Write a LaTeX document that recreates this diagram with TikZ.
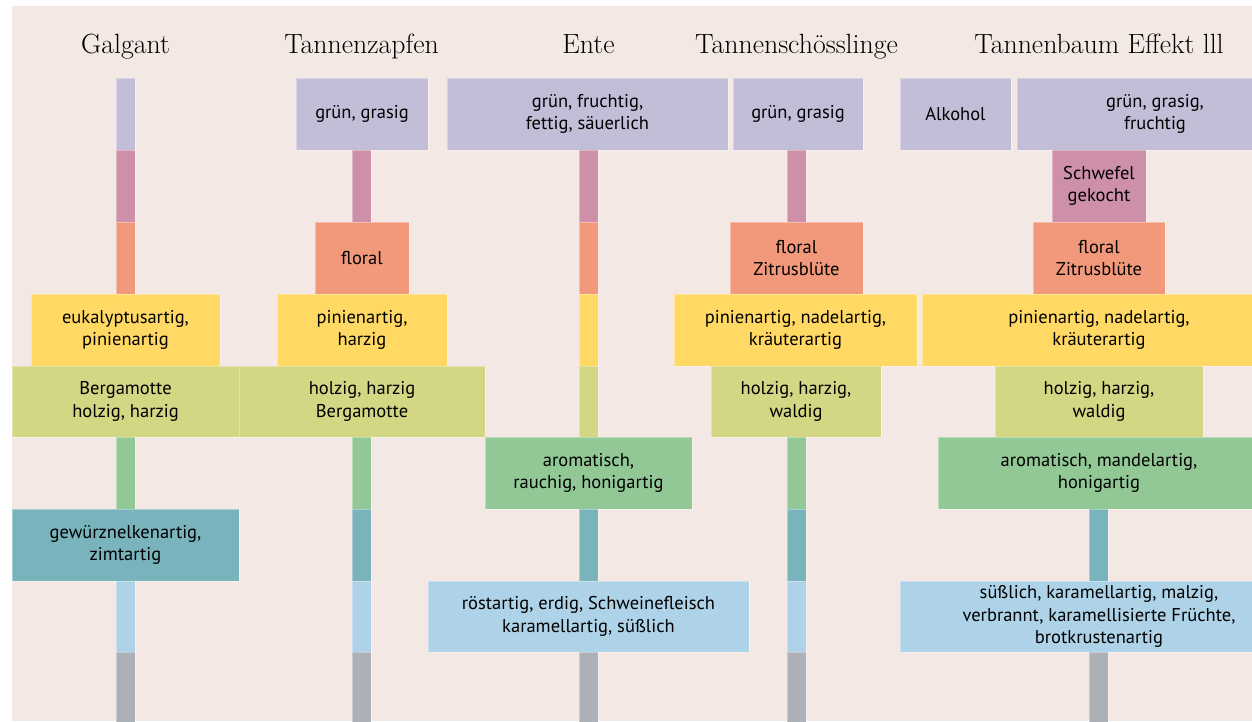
\documentclass[tikz,border=0pt]{standalone}
\usepackage{fontspec}
\newfontfamily\labfont{PT Sans}
\definecolor{bgc}{RGB}{243,232,227}
\definecolor{cPurple}{RGB}{195,190,216}
\definecolor{cMauve}{RGB}{206,143,168}
\definecolor{cSalmon}{RGB}{242,153,124}
\definecolor{cYellow}{RGB}{255,217,99}
\definecolor{cOlive}{RGB}{211,214,130}
\definecolor{cGreen}{RGB}{146,200,150}
\definecolor{cTeal}{RGB}{121,179,188}
\definecolor{cBlue}{RGB}{174,211,232}
\definecolor{cGrey}{RGB}{171,177,183}
\tikzset{
  cell/.style={inner sep=0pt, outer sep=0pt, align=center, draw=white, draw opacity=0.35, line width=0.8pt,
    font=\labfont\fontsize{18.5}{22.5}\selectfont, text=black},
  title/.style={anchor=base, font=\fontsize{27.8}{32}\selectfont, text=black}
}
% name, x1, x2, y1, y2, colour, text
\newcommand\cellbox[7]{%
  \node[cell, fill=#6, minimum width={#3pt-#2pt}, minimum height={#5pt-#4pt}]
    (#1) at ({(#2+#3)/2},{(#4+#5)/2}) {#7};}
\begin{document}
\begin{tikzpicture}[x=1pt,y=-1pt]
\useasboundingbox (0,0) rectangle (1252,721);
\clip (0,0) rectangle (1252,721);
\fill[bgc] (12,6) rectangle (1252,721);
% titles
\node[title] (tG) at (125.5,53) {Galgant};
\node[title] (tZ) at (361.5,53) {Tannenzapfen};
\node[title] (tE) at (588.5,53) {Ente};
\node[title] (tS) at (796.5,53) {Tannenschösslinge};
\node[title] (tT) at (1099,53) {Tannenbaum Effekt lll};
% row 1
\cellbox{gS1}{116}{135}{78}{150}{cPurple}{}
\cellbox{zB1}{296}{428}{78}{150}{cPurple}{grün, grasig}
\cellbox{eB1}{447}{728}{78}{150}{cPurple}{grün, fruchtig,\\fettig, säuerlich}
\cellbox{sB1}{733}{863}{78}{150}{cPurple}{grün, grasig}
\cellbox{tA1}{900}{1011}{78}{150}{cPurple}{Alkohol}
\cellbox{tB1}{1017}{1293}{78}{150}{cPurple}{grün, grasig,\\fruchtig}
% row 2
\cellbox{gS2}{116}{135}{150}{222}{cMauve}{}
\cellbox{zS2}{352}{371}{150}{222}{cMauve}{}
\cellbox{eS2}{579}{598}{150}{222}{cMauve}{}
\cellbox{sS2}{787}{806}{150}{222}{cMauve}{}
\cellbox{tB2}{1052}{1146}{150}{222}{cMauve}{Schwefel\\gekocht}
% row 3
\cellbox{gS3}{116}{135}{222}{294}{cSalmon}{}
\cellbox{zB3}{315}{409}{222}{294}{cSalmon}{floral}
\cellbox{eS3}{579}{598}{222}{294}{cSalmon}{}
\cellbox{sB3}{730}{863}{222}{294}{cSalmon}{floral\\Zitrusblüte}
\cellbox{tB3}{1033}{1165}{222}{294}{cSalmon}{floral\\Zitrusblüte}
% row 4
\cellbox{gB4}{31}{220}{294}{366}{cYellow}{eukalyptusartig,\\pinienartig}
\cellbox{zB4}{277}{447}{294}{366}{cYellow}{pinienartig,\\harzig}
\cellbox{eS4}{579}{598}{294}{366}{cYellow}{}
\cellbox{sB4}{674}{917}{294}{366}{cYellow}{pinienartig, nadelartig,\\kräuterartig}
\cellbox{tB4}{922}{1276}{294}{366}{cYellow}{pinienartig, nadelartig,\\kräuterartig}
% row 5
\cellbox{gB5}{12}{239}{366}{437}{cOlive}{Bergamotte\\holzig, harzig}
\cellbox{zB5}{239}{485}{366}{437}{cOlive}{holzig, harzig\\Bergamotte}
\cellbox{eS5}{579}{598}{366}{437}{cOlive}{}
\cellbox{sB5}{711}{881}{366}{437}{cOlive}{holzig, harzig,\\waldig}
\cellbox{tB5}{995}{1203}{366}{437}{cOlive}{holzig, harzig,\\waldig}
% row 6
\cellbox{gS6}{116}{135}{437}{509}{cGreen}{}
\cellbox{zS6}{352}{371}{437}{509}{cGreen}{}
\cellbox{eB6}{485}{692}{437}{509}{cGreen}{aromatisch,\\rauchig, honigartig}
\cellbox{sS6}{787}{806}{437}{509}{cGreen}{}
\cellbox{tB6}{938}{1260}{437}{509}{cGreen}{aromatisch, mandelartig,\\honigartig}
% row 7
\cellbox{gB7}{12}{239}{509}{581}{cTeal}{gewürznelkenartig,\\zimtartig}
\cellbox{zS7}{352}{371}{509}{581}{cTeal}{}
\cellbox{eS7}{579}{598}{509}{581}{cTeal}{}
\cellbox{sS7}{787}{806}{509}{581}{cTeal}{}
\cellbox{tS7}{1089}{1108}{509}{581}{cTeal}{}
% row 8
\cellbox{gS8}{116}{135}{581}{652}{cBlue}{}
\cellbox{zS8}{352}{371}{581}{652}{cBlue}{}
\cellbox{eB8}{428}{749}{581}{652}{cBlue}{röstartig, erdig, Schweinefleisch\\karamellartig, süßlich}
\cellbox{sS8}{787}{806}{581}{652}{cBlue}{}
\cellbox{tB8}{900}{1298}{581}{652}{cBlue}{süßlich, karamellartig, malzig,\\verbrannt, karamellisierte Früchte,\\brotkrustenartig}
% row 9
\cellbox{gS9}{116}{135}{652}{730}{cGrey}{}
\cellbox{zS9}{352}{371}{652}{730}{cGrey}{}
\cellbox{eS9}{579}{598}{652}{730}{cGrey}{}
\cellbox{sS9}{787}{806}{652}{730}{cGrey}{}
\cellbox{tS9}{1089}{1108}{652}{730}{cGrey}{}
\end{tikzpicture}
\end{document}
